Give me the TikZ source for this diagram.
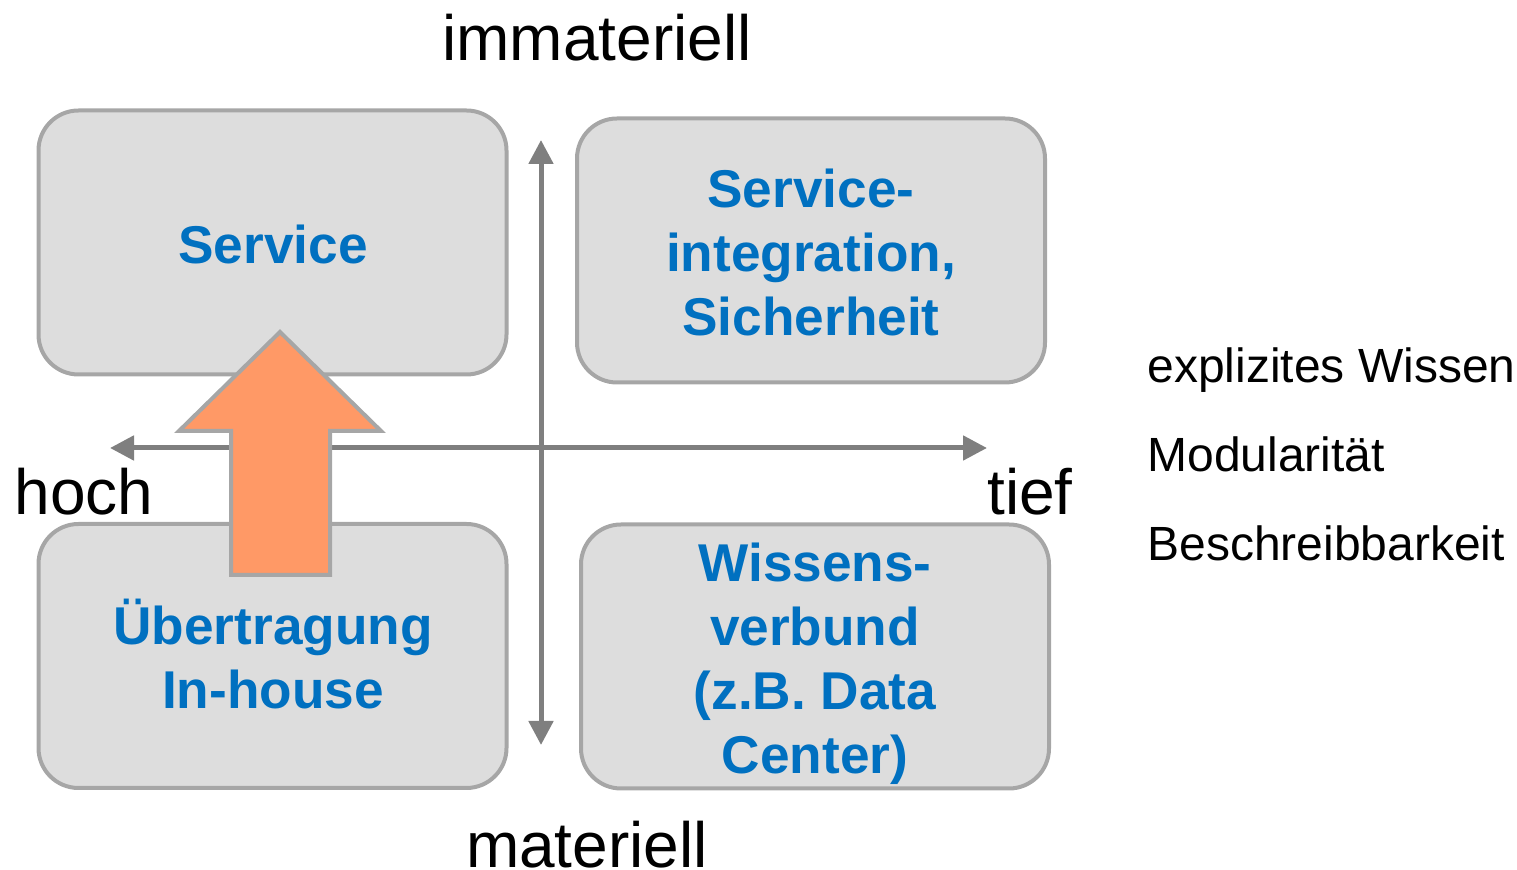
\documentclass[tikz,border=0pt]{standalone}
\usepackage{fontspec}
\setmainfont{Liberation Sans}
\usetikzlibrary{arrows.meta,positioning}
\definecolor{boxfill}{HTML}{DDDDDD}
\definecolor{boxline}{HTML}{A6A6A6}
\definecolor{axisgray}{HTML}{7F7F7F}
\definecolor{titleblue}{HTML}{0070C0}
\definecolor{pushorange}{HTML}{FF9966}
\tikzset{
  quadbox/.style={draw=boxline, fill=boxfill, line width=2pt, rounded corners=20pt,
    minimum width=234pt, minimum height=132pt},
  quadtext/.style={text=titleblue, font=\fontsize{26.6}{32}\selectfont\bfseries, align=center},
  axislabel/.style={font=\fontsize{32}{36}\selectfont, inner sep=0pt},
  sidelabel/.style={font=\fontsize{24}{28}\selectfont, anchor=base west, inner sep=0pt},
  axisline/.style={draw=axisgray, line width=2.5pt, {Triangle[length=12pt,width=12pt]}-{Triangle[length=12pt,width=12pt]}},
}

\begin{document}
\begin{tikzpicture}[x=0.5pt, y=-0.5pt]
\useasboundingbox (0,0) rectangle (1517,870);
% Quadrants
\node[quadbox] (tl) at (272.5,242.5) {};
\node[quadbox] (tr) at (811,250.5) {};
\node[quadbox] (bl) at (272.5,656) {};
\node[quadbox] (br) at (815,656.5) {};
% Axes
\coordinate (top) at (541,140);
\coordinate (bottom) at (541,745);
\coordinate (left) at (110,448);
\coordinate (right) at (987,448);
\draw[axisline] (top) -- (bottom);
\draw[axisline] (left) -- (right);
% Shift arrow
\filldraw[fill=pushorange, draw=boxline, line width=2pt]
  (280,332) -- (381,431) -- (330,431) -- (330,575) -- (231,575) -- (231,431) -- (179,431) -- cycle;
% Quadrant texts
\node[quadtext] (tltext) at (273,244) {Service};
\node[quadtext] (trtext) at (811,252) {Service-\\integration,\\Sicherheit};
\node[quadtext] (bltext) at (273,654) {Übertragung\\In-house};
\node[quadtext] (brtext) at (815,664) {Wissens-\\verbund\\(z.B. Data\\Center)};
% Axis labels
\node[axislabel] (immat) at (597,38) {immateriell};
\node[axislabel] (mat) at (587,845) {materiell};
\node[axislabel] (hoch) at (84,492) {hoch};
\node[axislabel] (tief) at (1030,492) {tief};
% Side notes
\node[sidelabel] (wissen) at (1147,383) {explizites Wissen};
\node[sidelabel] (modul) at (1147,472) {Modularität};
\node[sidelabel] (beschr) at (1147,561) {Beschreibbarkeit};
\end{tikzpicture}
\end{document}
